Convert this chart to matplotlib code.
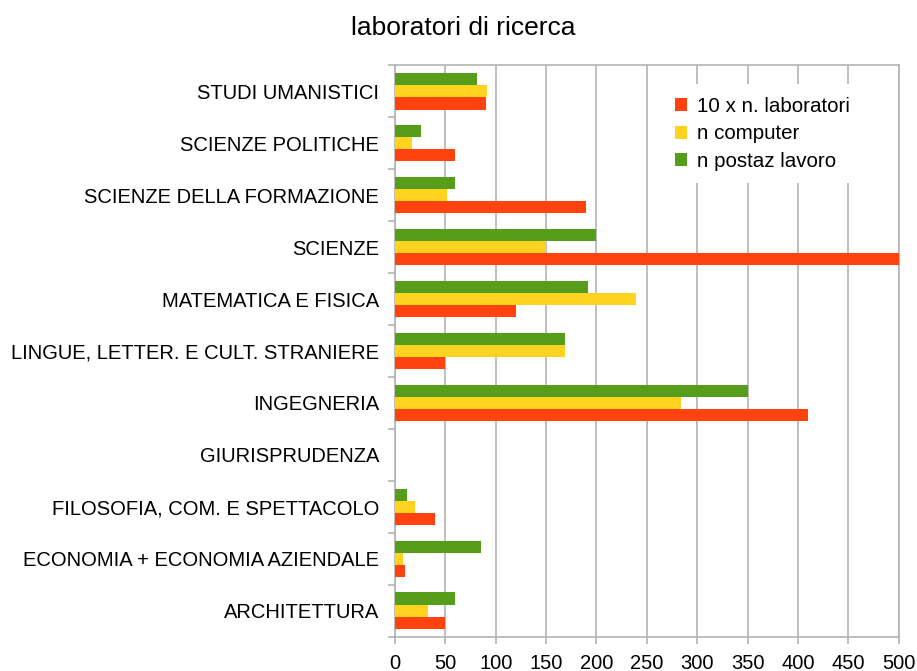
import matplotlib.pyplot as plt
import numpy as np

plt.rcParams['font.family'] = ['Liberation Sans', 'DejaVu Sans']

categories = ['ARCHITETTURA', 'ECONOMIA + ECONOMIA AZIENDALE', 'FILOSOFIA, COM. E SPETTACOLO',
              'GIURISPRUDENZA', 'INGEGNERIA', 'LINGUE, LETTER. E CULT. STRANIERE',
              'MATEMATICA E FISICA', 'SCIENZE', 'SCIENZE DELLA FORMAZIONE',
              'SCIENZE POLITICHE', 'STUDI UMANISTICI']
laboratori_x10 = [50, 10, 40, 0, 410, 50, 120, 500, 190, 60, 90]
n_computer = [33, 8, 20, 0, 284, 169, 239, 150, 52, 17, 91]
n_postaz = [60, 85, 12, 0, 350, 169, 192, 200, 60, 26, 81]
series_names = ['10 x n. laboratori', 'n computer', 'n postaz lavoro']
colors = ['#ff420e', '#ffd320', '#579d1c']
x_ticks = list(range(0, 501, 50))

fig = plt.figure(figsize=(9.17, 6.71), dpi=100)
ax = fig.add_axes([0.4307, 0.0507, 0.5494, 0.8524])

y = np.arange(len(categories))
h = 0.237
for i, (vals, name, c) in enumerate(zip([laboratori_x10, n_computer, n_postaz], series_names, colors)):
    ax.barh(y + (i - 1) * h, vals, height=h, color=c, label=name, zorder=3)

ax.set_xlim(0, 500)
ax.set_ylim(-0.5, len(categories) - 0.5)
ax.set_xticks(x_ticks)
ax.set_xticklabels([str(t) for t in x_ticks], fontsize=14.5, color='#000000')
ax.set_yticks(y)
ax.set_yticklabels(categories, fontsize=14.5)
ax.set_yticks(np.arange(len(categories) + 1) - 0.5, minor=True)
ax.tick_params(axis='y', which='major', length=0, pad=11.5)
ax.tick_params(axis='y', which='minor', length=5, color='#b3b3b3', width=1.2)
ax.tick_params(axis='x', length=5, color='#b3b3b3', width=1.2, pad=7)
ax.grid(axis='x', color='#b3b3b3', linewidth=1.2, zorder=0)
for s in ax.spines.values():
    s.set_color('#b3b3b3')
    s.set_linewidth(1.2)

fig.text(0.505, 0.958, 'laboratori di ricerca', fontsize=19, ha='center', va='center')

leg = ax.legend(loc='upper left', bbox_to_anchor=(0.51, 0.984), frameon=True, fontsize=14.8,
                handlelength=0.6, handleheight=0.6, handletextpad=0.5, labelspacing=0.42,
                borderpad=0.6)
leg.get_frame().set_edgecolor('none')
leg.get_frame().set_facecolor('white')
leg.get_frame().set_alpha(1)
leg.get_frame().set_boxstyle('square', pad=0)
leg.set_zorder(5)

fig.savefig('out.png', dpi=100)
